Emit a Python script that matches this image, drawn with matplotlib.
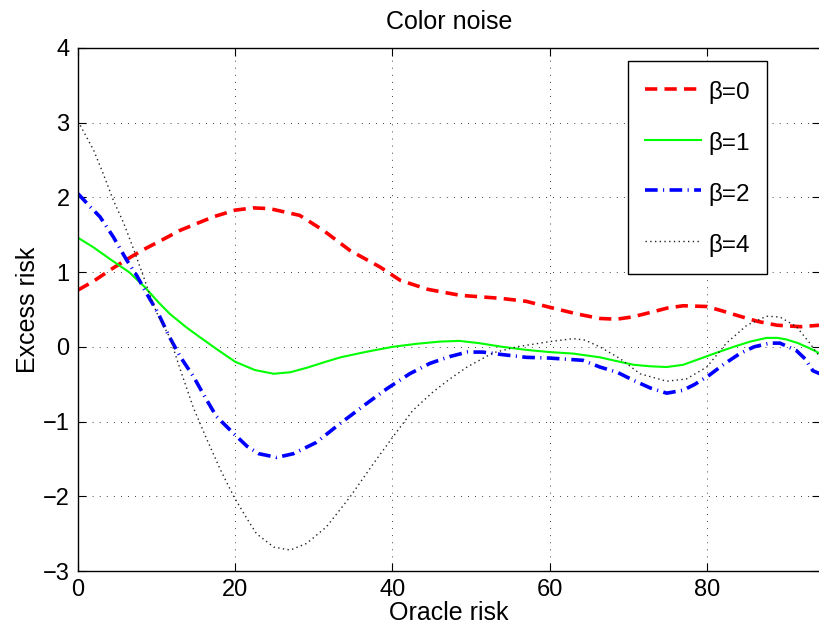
import matplotlib
matplotlib.use('Agg')
import matplotlib.pyplot as plt

plt.rcParams['font.family'] = ['Liberation Sans', 'DejaVu Sans']

# beta = 0
x0 = [0, 2, 4.1, 6.2, 8.3, 10.5, 13, 17.2, 20, 22.3, 24.4, 28.2, 31.2, 34.6, 38.4,
      41, 44.5, 48.6, 53.7, 57, 60, 63.5, 66.4, 68.5, 70.5, 72.8, 75, 77, 80, 82,
      84.2, 86.5, 88.9, 91.9, 94.4]
y0 = [0.76, 0.88, 1.03, 1.17, 1.30, 1.42, 1.56, 1.74, 1.83, 1.86, 1.85, 1.76, 1.56,
      1.29, 1.07, 0.89, 0.77, 0.69, 0.65, 0.61, 0.53, 0.44, 0.38, 0.37, 0.40, 0.46,
      0.52, 0.55, 0.54, 0.48, 0.41, 0.34, 0.29, 0.27, 0.29]

# beta = 1
x1 = [0, 2, 4, 6.5, 8.5, 10.2, 11.7, 13.8, 15.5, 17.5, 20, 22.5, 24.9, 27, 29.1,
      31.5, 33.4, 36.5, 40, 43, 46, 48.5, 51, 54, 57, 60, 63, 66.4, 68.5, 70.7,
      72.8, 74.9, 77, 79.1, 81.2, 83.4, 85.5, 87.6, 89, 90.1, 91.6, 93.1, 94.4]
y1 = [1.46, 1.33, 1.18, 1.0, 0.80, 0.60, 0.44, 0.26, 0.13, -0.02, -0.2, -0.31,
      -0.36, -0.34, -0.28, -0.20, -0.14, -0.07, 0.0, 0.04, 0.07, 0.08, 0.05, 0.0,
      -0.04, -0.07, -0.09, -0.14, -0.19, -0.24, -0.26, -0.27, -0.24, -0.16, -0.08,
      0.0, 0.07, 0.12, 0.12, 0.10, 0.05, -0.02, -0.09]

# beta = 2
x2 = [0, 1.5, 2.8, 4.5, 6.2, 7.5, 8.7, 10.2, 11.6, 13, 14.7, 16.2, 17.6, 19.8, 21.5,
      23, 25.3, 27.4, 30.3, 33.3, 36.7, 39.3, 42.2, 44.8, 47.3, 49.5, 51.5, 53.7, 57,
      60, 64.2, 66.4, 68.6, 70.7, 72.8, 74.9, 77, 78.5, 80.3, 82.2, 84.2, 86, 88,
      89.3, 91.4, 92.5, 93.5, 94.4]
y2 = [2.05, 1.88, 1.74, 1.47, 1.16, 0.95, 0.72, 0.45, 0.14, -0.13, -0.40, -0.68,
      -0.93, -1.16, -1.33, -1.43, -1.48, -1.43, -1.28, -1.03, -0.76, -0.56, -0.36,
      -0.22, -0.13, -0.07, -0.07, -0.10, -0.14, -0.15, -0.18, -0.27, -0.34, -0.45,
      -0.55, -0.62, -0.58, -0.50, -0.38, -0.23, -0.09, 0.0, 0.05, 0.05, -0.05,
      -0.16, -0.32, -0.36]

# beta = 4
x4 = [0, 2, 3.2, 4.5, 5.8, 7.1, 8.3, 9.2, 10, 11.7, 13, 14.7, 16.4, 18.1, 19.8, 21.5,
      22.7, 24.9, 27, 29.1, 31.6, 34.6, 37.6, 40.1, 42.6, 45.2, 47.3, 49.5, 52.8,
      55.8, 60, 63, 64.5, 66.4, 69, 71.5, 74.9, 77.4, 80, 82.5, 85.1, 87.6, 89.3,
      91.4, 93.1, 94.4]
y4 = [3.02, 2.63, 2.32, 1.96, 1.66, 1.30, 0.95, 0.68, 0.46, 0.12, -0.30, -0.82,
      -1.24, -1.64, -2.0, -2.3, -2.5, -2.68, -2.72, -2.63, -2.41, -2.01, -1.56, -1.2,
      -0.85, -0.6, -0.43, -0.27, -0.08, 0.0, 0.07, 0.11, 0.09, 0.0, -0.16, -0.36,
      -0.46, -0.43, -0.27, 0.05, 0.29, 0.41, 0.40, 0.27, 0.05, -0.14]

labels = [u'\u03b2=0', u'\u03b2=1', u'\u03b2=2', u'\u03b2=4']

fig = plt.figure(figsize=(8.2, 6.31), dpi=100)
ax = fig.add_axes([78/820, 60/631, 742/820, 523/631])

ax.plot(x0, y0, color='#ff0000', lw=2.6, linestyle=(0, (3.4, 2.0)), label=labels[0])
ax.plot(x1, y1, color='#00ff00', lw=1.5, label=labels[1])
ax.plot(x2, y2, color='#0000ff', lw=2.6, linestyle=(0, (3.5, 1.5, 0.3, 1.5)),
        dash_capstyle='butt', label=labels[2])
ax.plot(x4, y4, color='#222222', lw=1.0, linestyle=(0, (1.0, 2.4)), label=labels[3])

ax.set_xlim(0, 94.4)
ax.set_ylim(-3, 4)
ax.set_xticks([0, 20, 40, 60, 80])
ax.set_yticks(range(-3, 5))

ax.grid(True, color='black', lw=0.6, linestyle=(0, (1, 7.5)))
ax.tick_params(direction='in', length=6, width=0.8, labelsize=17, pad=6,
               top=True, right=True)
for s in ax.spines.values():
    s.set_linewidth(1.0)

ax.set_title('Color noise', fontsize=18, pad=13.5)
ax.set_xlabel('Oracle risk', fontsize=18, labelpad=0)
ax.set_ylabel('Excess risk', fontsize=18, labelpad=2)

leg = ax.legend(loc='upper right', bbox_to_anchor=(0.929, 0.975), fontsize=17.5,
                handlelength=2.3, handleheight=1.3, handletextpad=0.3,
                labelspacing=1.0, borderpad=0.7, borderaxespad=0,
                fancybox=False, framealpha=1)
leg.get_frame().set_edgecolor('black')
leg.get_frame().set_linewidth(1.0)

plt.savefig('out.png', dpi=100)
